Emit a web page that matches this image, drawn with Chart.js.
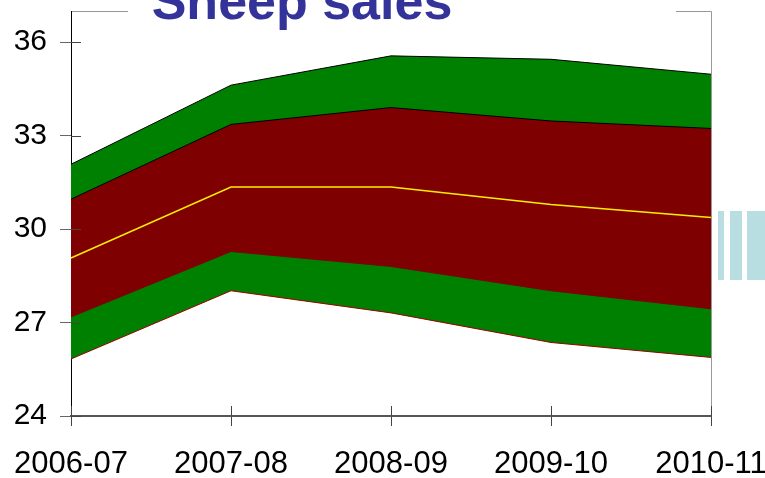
<!DOCTYPE html>
<html>
<head>
<meta charset="utf-8">
<script src="https://cdn.jsdelivr.net/npm/chart.js@4.4.1/dist/chart.umd.min.js"></script>
<style>
  html, body { margin: 0; padding: 0; background: #fff; }
  #wrap { width: 765px; height: 478px; }
</style>
</head>
<body>
<div id="wrap"><canvas id="chart"></canvas></div>
<script>
  // values
  var categories = ['2006-07', '2007-08', '2008-09', '2009-10', '2010-11'];
  var outerHigh = [32.08, 34.62, 35.56, 35.45, 34.97];
  var innerHigh = [30.96, 33.36, 33.90, 33.47, 33.23];
  var median    = [29.07, 31.35, 31.35, 30.79, 30.37];
  var innerLow  = [27.18, 29.28, 28.80, 28.02, 27.44];
  var outerLow  = [25.83, 28.02, 27.31, 26.36, 25.88];
  var yTicks = [24, 27, 30, 33, 36];

  // title, frame, inner tick halves, clipped legend
  var extras = {
    id: 'extras',
    beforeDraw: function (chart) {
      var c = chart.ctx, a = chart.chartArea;
      c.save();
      c.strokeStyle = '#999';
      c.lineWidth = 1;
      c.beginPath();
      c.moveTo(a.left, a.top + 0.5); c.lineTo(128, a.top + 0.5);
      c.moveTo(676, a.top + 0.5); c.lineTo(a.right + 0.5, a.top + 0.5);
      c.lineTo(a.right + 0.5, a.bottom + 10);
      c.stroke();
      c.restore();
    },
    afterDraw: function (chart) {
      var c = chart.ctx, a = chart.chartArea;
      var xs = chart.scales.x, ys = chart.scales.y;
      c.save();
      // inner part of the tick marks
      c.strokeStyle = '#444';
      c.lineWidth = 1;
      c.beginPath();
      ys.ticks.forEach(function (t, i) {
        var y = Math.round(ys.getPixelForTick(i)) + 0.5;
        c.moveTo(a.left, y); c.lineTo(a.left + 10, y);
      });
      xs.ticks.forEach(function (t, i) {
        var x = Math.round(xs.getPixelForTick(i)) + 0.5;
        c.moveTo(x, a.bottom); c.lineTo(x, a.bottom - 10);
      });
      c.stroke();

      // title
      c.fillStyle = '#333399';
      c.font = 'bold 52px "Liberation Sans", Arial, sans-serif';
      c.textAlign = 'center';
      c.textBaseline = 'alphabetic';
      c.fillText('Sheep sales', 302, 19);

      // legend boxes running off the right edge
      c.fillStyle = '#b9dee2';
      c.fillRect(718, 211, 6, 69);
      c.fillRect(730, 211, 12, 69);
      c.fillRect(747, 211, 18, 69);
      c.restore();
    }
  };

  var ctx = document.getElementById('chart');

  var chart = new Chart(ctx, {
    type: 'line',
    data: {
      labels: categories,
      datasets: [
        { label: 'Median', data: median, borderColor: '#ffee00', borderWidth: 1.5, fill: false },
        { label: 'Inner high', data: innerHigh, borderColor: '#000', borderWidth: 1, fill: '+1', backgroundColor: '#7f0000' },
        { label: 'Inner low', data: innerLow, borderColor: '#7f0000', borderWidth: 1, fill: false },
        { label: 'Outer high', data: outerHigh, borderColor: '#000', borderWidth: 1, fill: '+1', backgroundColor: '#008000' },
        { label: 'Outer low', data: outerLow, borderColor: '#990000', borderWidth: 1, fill: false }
      ]
    },
    options: {
      responsive: true,
      maintainAspectRatio: false,
      animation: false,
      elements: { point: { radius: 0 }, line: { tension: 0 } },
      layout: { padding: { top: 11, right: 54, left: 0, bottom: 0 } },
      plugins: {
        legend: { display: false },
        title: { display: false },
        tooltip: { enabled: false },
        filler: { drawTime: 'beforeDatasetsDraw' }
      },
      scales: {
        x: {
          offset: false,
          grid: { drawOnChartArea: false, tickLength: 10, color: '#444' },
          border: { color: '#555', width: 2 },
          ticks: {
            color: '#000', maxRotation: 0, autoSkip: false, padding: 20,
            font: { family: '"Liberation Sans", Arial, sans-serif', size: 31 }
          },
          afterFit: function (s) {
            s.height = 62;
            s.paddingLeft = 0; s.paddingRight = 0;
          }
        },
        y: {
          min: 24, max: 37,
          grid: { drawOnChartArea: false, tickLength: 11, color: '#666' },
          border: { color: '#000', width: 1 },
          ticks: {
            color: '#000', padding: 13,
            font: { family: '"Liberation Sans", Arial, sans-serif', size: 30 }
          },
          afterBuildTicks: function (s) {
            s.ticks = yTicks.map(function (v) { return { value: v }; });
          },
          afterFit: function (s) {
            s.width = 71;
            s.paddingTop = 0; s.paddingBottom = 0;
          }
        }
      }
    },
    plugins: [extras]
  });
</script>
</body>
</html>
